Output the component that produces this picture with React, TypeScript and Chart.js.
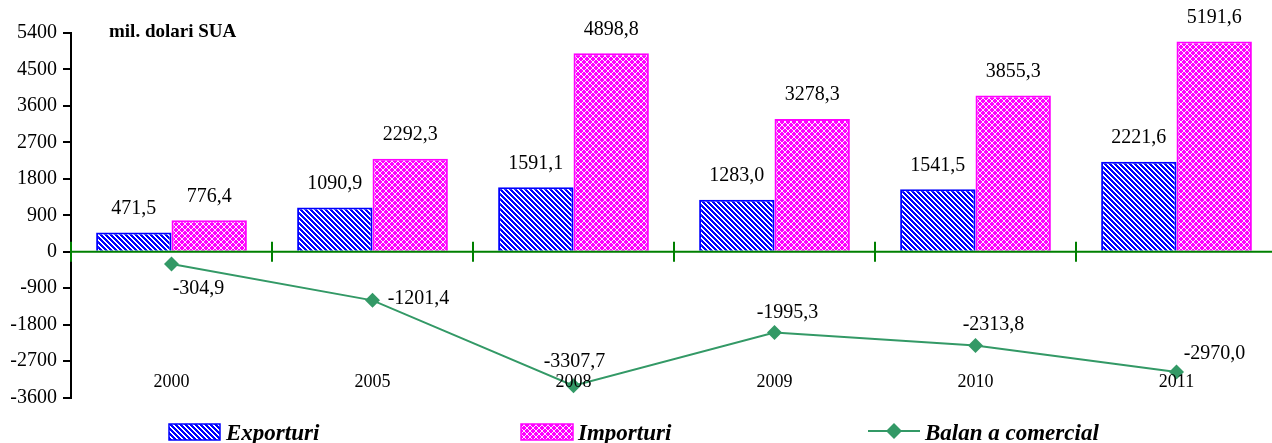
import { useEffect, useRef } from 'react';
import { Chart, registerables } from 'chart.js';

Chart.register(...registerables);

const categories = ['2000', '2005', '2008', '2009', '2010', '2011'];
const exporturi = [471.5, 1090.9, 1591.1, 1283.0, 1541.5, 2221.6];
const importuri = [776.4, 2292.3, 4898.8, 3278.3, 3855.3, 5191.6];
const balanta = [-304.9, -1201.4, -3307.7, -1995.3, -2313.8, -2970.0];
const yMin = -3600;
const yMax = 5400;
const yStep = 900;
const unitLabel = 'mil. dolari SUA';
const seriesNames = ['Exporturi', 'Importuri', 'Balan a comercial'];

// label placement offsets (style only) for the balance series, relative to each point
const balLabelOffsets: [number, number][] = [
  [27, 25],
  [46, -2],
  [1, -24],
  [13, -20],
  [18, -21],
  [38, -18],
];

const SERIF = '"Liberation Serif", "Times New Roman", serif';
const BLUE = '#0000FF';
const MAGENTA = '#FF00FF';
const GREEN_LINE = '#339966';
const AXIS_GREEN = '#008000';

const fmt = (v: number) => v.toFixed(1).replace('.', ',');

function makeStripePattern(): CanvasPattern | string {
  const c = document.createElement('canvas');
  const p = 5;
  c.width = p;
  c.height = p;
  const ctx = c.getContext('2d');
  if (!ctx) return BLUE;
  const img = ctx.createImageData(p, p);
  for (let y = 0; y < p; y++) {
    for (let x = 0; x < p; x++) {
      const i = (y * p + x) * 4;
      const m = (((x - y) % p) + p) % p;
      const blue = m < 3;
      img.data[i] = blue ? 0 : 255;
      img.data[i + 1] = blue ? 0 : 255;
      img.data[i + 2] = 255;
      img.data[i + 3] = 255;
    }
  }
  ctx.putImageData(img, 0, 0);
  return ctx.createPattern(c, 'repeat') || BLUE;
}

function makeLatticePattern(): CanvasPattern | string {
  const c = document.createElement('canvas');
  const p = 6;
  c.width = p;
  c.height = p;
  const ctx = c.getContext('2d');
  if (!ctx) return MAGENTA;
  const img = ctx.createImageData(p, p);
  for (let y = 0; y < p; y++) {
    for (let x = 0; x < p; x++) {
      const i = (y * p + x) * 4;
      const a = (x + y) % p === 0;
      const b = (((x - y) % p) + p) % p === 3;
      const white = a || b;
      img.data[i] = 255;
      img.data[i + 1] = white ? 230 : 0;
      img.data[i + 2] = 255;
      img.data[i + 3] = 255;
    }
  }
  ctx.putImageData(img, 0, 0);
  return ctx.createPattern(c, 'repeat') || MAGENTA;
}

function drawDiamond(ctx: CanvasRenderingContext2D, x: number, y: number, r: number) {
  ctx.beginPath();
  ctx.moveTo(x - r, y);
  ctx.lineTo(x, y - r);
  ctx.lineTo(x + r, y);
  ctx.lineTo(x, y + r);
  ctx.closePath();
  ctx.fill();
}

export default function App() {
  const ref = useRef<HTMLCanvasElement | null>(null);

  useEffect(() => {
    if (!ref.current) return;
    const stripe = makeStripePattern();
    const lattice = makeLatticePattern();

    const overlay = {
      id: 'overlay',
      afterDatasetsDraw(chart: any) {
        const ctx: CanvasRenderingContext2D = chart.ctx;
        const { left, right } = chart.chartArea;
        const y0 = chart.scales.y.getPixelForValue(0);
        ctx.save();
        ctx.strokeStyle = AXIS_GREEN;
        ctx.lineWidth = 2;
        ctx.beginPath();
        ctx.moveTo(left, y0);
        ctx.lineTo(right, y0);
        const n = categories.length;
        const w = (right - left) / n;
        for (let i = 0; i <= n; i++) {
          const x = Math.round(left + i * w);
          ctx.moveTo(x, y0 - 10);
          ctx.lineTo(x, y0 + 10);
        }
        ctx.stroke();
        ctx.restore();
      },
      afterDraw(chart: any) {
        const ctx: CanvasRenderingContext2D = chart.ctx;
        const { bottom } = chart.chartArea;
        ctx.save();
        ctx.fillStyle = '#000';
        // bar value labels
        ctx.font = `20px ${SERIF}`;
        ctx.textAlign = 'center';
        ctx.textBaseline = 'middle';
        [1, 2].forEach((di) => {
          const meta = chart.getDatasetMeta(di);
          const data = chart.data.datasets[di].data as number[];
          meta.data.forEach((el: any, i: number) => {
            ctx.fillText(fmt(data[i]), el.x, el.y - 24);
          });
        });
        // balance labels
        const lm = chart.getDatasetMeta(0);
        lm.data.forEach((el: any, i: number) => {
          const [dx, dy] = balLabelOffsets[i];
          ctx.fillText(fmt(balanta[i]), el.x + dx, el.y + dy);
        });
        // category labels
        ctx.font = `18px ${SERIF}`;
        categories.forEach((c, i) => {
          const x = chart.scales.x.getPixelForValue(i);
          ctx.fillText(c, x, bottom - 15);
        });
        // unit label
        ctx.font = `bold 19px ${SERIF}`;
        ctx.textAlign = 'left';
        ctx.fillText(unitLabel, 109, 32);

        // legend
        ctx.textBaseline = 'alphabetic';
        ctx.font = `italic bold 23px ${SERIF}`;
        // Exporturi
        ctx.fillStyle = stripe as any;
        ctx.fillRect(169, 424, 51, 16);
        ctx.strokeStyle = BLUE;
        ctx.lineWidth = 1.5;
        ctx.strokeRect(169, 424, 51, 16);
        ctx.fillStyle = '#000';
        ctx.fillText(seriesNames[0], 226, 440);
        // Importuri
        ctx.fillStyle = lattice as any;
        ctx.fillRect(521, 424, 52, 16);
        ctx.strokeStyle = MAGENTA;
        ctx.strokeRect(521, 424, 52, 16);
        ctx.fillStyle = '#000';
        ctx.fillText(seriesNames[1], 578, 440);
        // Balanta
        ctx.strokeStyle = GREEN_LINE;
        ctx.lineWidth = 2;
        ctx.beginPath();
        ctx.moveTo(868, 431);
        ctx.lineTo(920, 431);
        ctx.stroke();
        ctx.fillStyle = GREEN_LINE;
        drawDiamond(ctx, 894, 431, 8);
        ctx.fillStyle = '#000';
        ctx.fillText(seriesNames[2], 925, 440);
        ctx.restore();
      },
    };

    const chart = new Chart(ref.current, {
      type: 'bar',
      data: {
        labels: categories,
        datasets: [
          {
            type: 'line',
            label: seriesNames[2],
            data: balanta,
            borderColor: GREEN_LINE,
            backgroundColor: GREEN_LINE,
            borderWidth: 2,
            pointStyle: 'rectRot',
            pointRadius: 7.5,
            pointBorderWidth: 0,
            pointBackgroundColor: GREEN_LINE,
            tension: 0,
          } as any,
          {
            type: 'bar',
            label: seriesNames[0],
            data: exporturi,
            backgroundColor: stripe as any,
            borderColor: BLUE,
            borderWidth: 2,
            categoryPercentage: 0.75,
            barPercentage: 1,
          },
          {
            type: 'bar',
            label: seriesNames[1],
            data: importuri,
            backgroundColor: lattice as any,
            borderColor: MAGENTA,
            borderWidth: 2,
            categoryPercentage: 0.75,
            barPercentage: 1,
          },
        ],
      },
      options: {
        animation: false,
        responsive: true,
        maintainAspectRatio: false,
        layout: { autoPadding: false, padding: { left: 0, right: 0, top: 33, bottom: 45.5 } },
        plugins: {
          legend: { display: false },
          tooltip: { enabled: false },
          title: { display: false },
        },
        scales: {
          x: {
            display: false,
            offset: true,
          },
          y: {
            min: yMin,
            max: yMax,
            afterFit: (scale: any) => {
              scale.width = 71;
            },
            ticks: {
              stepSize: yStep,
              color: '#000',
              padding: 6,
              font: { family: SERIF, size: 20 },
              callback: (v: any) => String(v),
            },
            grid: {
              drawOnChartArea: false,
              drawTicks: true,
              tickLength: 8,
              color: '#000',
              lineWidth: 2,
            },
            border: { display: true, color: '#000', width: 2 },
          },
        },
      } as any,
      plugins: [overlay],
    });

    return () => chart.destroy();
  }, []);

  return (
    <div
      style={{
        position: 'fixed',
        left: 0,
        top: 0,
        width: 1272,
        height: 443,
        overflow: 'hidden',
        background: '#fff',
      }}
    >
      <div style={{ position: 'relative', width: 1277, height: 443 }}>
        <canvas ref={ref} />
      </div>
    </div>
  );
}
